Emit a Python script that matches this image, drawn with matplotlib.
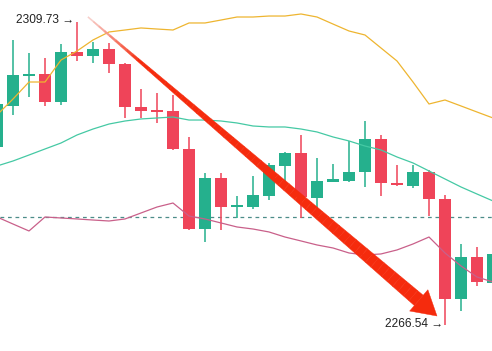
import numpy as np
import matplotlib
matplotlib.use("Agg")
import matplotlib.pyplot as plt
from matplotlib.collections import PolyCollection

# OHLC candles (first and last candle are cut by the frame)
opens = [2291.93, 2297.72, 2301.99, 2302.27, 2298.29, 2305.40, 2304.83, 2305.83,
         2303.69, 2297.57, 2297.15, 2297.00, 2291.60, 2280.21, 2287.47, 2283.34,
         2283.34, 2284.91, 2289.18, 2291.03, 2284.62, 2286.97, 2287.04, 2288.32,
         2293.02, 2286.76, 2286.33, 2288.32, 2284.48, 2270.25, 2276.23, 2272.53]
highs = [2298.57, 2307.11, 2305.26, 2304.55, 2306.54, 2309.73, 2306.82, 2306.68,
         2303.84, 2300.14, 2299.57, 2299.28, 2293.31, 2288.18, 2288.18, 2284.91,
         2287.75, 2289.61, 2291.17, 2293.59, 2290.32, 2289.46, 2292.74, 2295.58,
         2293.59, 2289.32, 2289.32, 2288.61, 2285.05, 2278.08, 2277.65, 2277.79]
lows = [2291.46, 2296.44, 2299.00, 2297.72, 2297.86, 2304.12, 2303.84, 2302.41,
        2296.01, 2296.01, 2295.30, 2291.46, 2280.07, 2278.36, 2280.07, 2281.78,
        2283.06, 2284.34, 2287.04, 2281.78, 2283.06, 2286.90, 2286.90, 2286.19,
        2284.91, 2286.33, 2286.05, 2282.06, 2266.54, 2268.54, 2272.10, 2271.53]
closes = [2298.00, 2302.13, 2302.27, 2298.29, 2305.40, 2304.83, 2305.83, 2303.69,
          2297.57, 2297.00, 2296.86, 2291.60, 2280.21, 2287.47, 2283.34, 2283.49,
          2285.05, 2289.32, 2291.03, 2284.77, 2287.04, 2287.19, 2288.32, 2293.02,
          2286.76, 2286.47, 2288.32, 2284.48, 2270.25, 2276.23, 2272.67, 2276.66]

# Bollinger bands
upper_band = [2296.44, 2298.71, 2301.13, 2301.13, 2304.26, 2305.54, 2307.11, 2308.25,
              2308.53, 2308.82, 2308.67, 2308.53, 2309.53, 2309.53, 2309.95, 2310.38,
              2310.38, 2310.52, 2310.52, 2310.81, 2310.38, 2309.38, 2308.39, 2307.82,
              2305.97, 2304.12, 2301.13, 2298.00, 2298.57, 2297.72, 2296.86, 2296.01]
middle_band = [2289.18, 2289.89, 2290.74, 2291.60, 2292.45, 2293.59, 2294.44, 2295.15,
               2295.58, 2295.87, 2296.01, 2296.15, 2295.72, 2295.72, 2295.58, 2295.30,
               2294.87, 2294.73, 2294.73, 2294.44, 2294.02, 2293.31, 2292.74, 2292.02,
               2291.46, 2290.46, 2289.61, 2288.47, 2287.33, 2286.19, 2285.19, 2284.20]
lower_band = [2281.92, 2280.92, 2279.93, 2281.92, 2281.78, 2281.64, 2281.49, 2281.35,
              2281.64, 2282.49, 2283.34, 2283.91, 2282.06, 2281.64, 2281.07, 2280.50,
              2280.21, 2279.79, 2279.07, 2278.51, 2277.94, 2277.51, 2276.80, 2276.51,
              2276.66, 2277.23, 2278.08, 2279.07, 2276.80, 2274.95, 2273.38, 2272.67]

ref_level = 2281.92          # dashed horizontal line
high_label = "2309.73 →"
low_label = "2266.54 →"
high_idx, low_idx = 5, 28

GREEN = "#25b08d"
RED = "#ef4459"

fig = plt.figure(figsize=(4.92, 3.51), dpi=100)
ax = fig.add_axes([0, 0, 1, 1])
ax.set_xlim(0.1875, 30.9375)
ax.set_ylim(2262.85, 2312.8)
ax.axis("off")

x = np.arange(len(opens))
o = np.array(opens)
c = np.array(closes)
colors = [GREEN if cc >= oo else RED for oo, cc in zip(o, c)]

# wicks + bodies
ax.vlines(x, lows, highs, colors=colors, linewidth=1.1, zorder=2)
body_h = np.maximum(np.abs(c - o), 0.3)
ax.bar(x, body_h, bottom=np.minimum(o, c), width=0.75, color=colors, zorder=3)

# bands
ax.plot(x, upper_band, color="#eeb530", linewidth=0.9, zorder=4)
ax.plot(x, middle_band, color="#45c9a4", linewidth=0.9, zorder=4)
ax.plot(x, lower_band, color="#c9608a", linewidth=0.9, zorder=4)
ax.axhline(ref_level, color="#4d8d89", linewidth=0.9, linestyle=(0, (3, 3)), zorder=1)

# labels at the high and low
fnt = ["Liberation Sans", "DejaVu Sans"]
ax.text(high_idx - 0.2, highs[high_idx] + 0.25, high_label, ha="right", va="center",
        fontsize=8.6, family=fnt, color="#222222", zorder=6)
ax.text(low_idx - 0.1, lows[low_idx] + 0.15, low_label, ha="right", va="center",
        fontsize=8.6, family=fnt, color="#222222", zorder=6)

# big tapered red arrow, built in pixel space then mapped back to data
to_px = ax.transData
to_data = ax.transData.inverted()
p0 = to_px.transform((5.69, 2310.38))
tip = to_px.transform((27.5, 2267.83))
d = (tip - p0) / np.linalg.norm(tip - p0)
nrm = np.array([-d[1], d[0]])
head_len, head_w = 24, 14
base = tip - d * head_len
n_seg = 60
ts = np.linspace(0, 1, n_seg + 1)
polys, fcs = [], []
start_col = np.array([0.97, 0.80, 0.78])
end_col = np.array([0.96, 0.17, 0.05])
for i in range(n_seg):
    t0, t1 = ts[i], ts[i + 1]
    a = p0 + (base - p0) * t0
    b = p0 + (base - p0) * t1
    w0 = 0.5 + 6.3 * t0
    w1 = 0.5 + 6.3 * t1
    quad = [a + nrm * w0, b + nrm * w1, b - nrm * w1, a - nrm * w0]
    polys.append(to_data.transform(quad))
    mix = min(t0 / 0.15, 1.0)
    fcs.append(start_col + (end_col - start_col) * mix)
head = [base + nrm * head_w, tip, base - nrm * head_w]
polys.append(to_data.transform(head))
fcs.append(end_col)
ax.add_collection(PolyCollection(polys, facecolors=fcs, edgecolors=fcs,
                                 linewidths=0.3, zorder=5))

fig.savefig("out.png", dpi=100)
